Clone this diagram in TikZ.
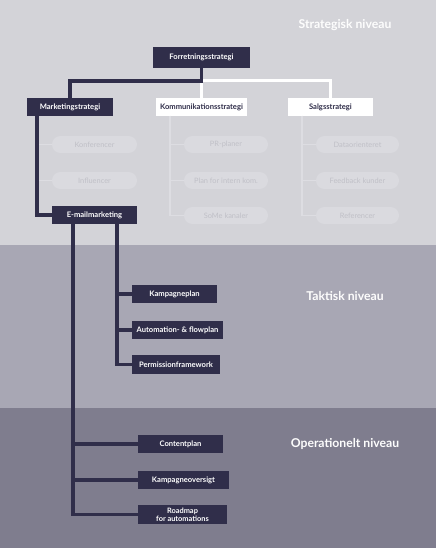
\documentclass[tikz,border=0pt]{standalone}
\usepackage{fontspec}
\setmainfont{Lato}
\definecolor{bandtop}{HTML}{D3D3D8}
\definecolor{bandmid}{HTML}{A8A7B4}
\definecolor{bandlow}{HTML}{7F7D8E}
\definecolor{navy}{HTML}{302E4A}
\definecolor{pillfill}{HTML}{DADADF}
\definecolor{pilltext}{HTML}{C0C0C7}
\definecolor{faint}{HTML}{DDDDE2}
\tikzset{
  darkbox/.style={fill=navy, text=white, font=\fontsize{7.6}{8.4}\selectfont\bfseries,
    minimum height=18pt, inner sep=1pt, align=center},
  lightbox/.style={fill=white, text=navy, font=\fontsize{7.6}{8.4}\selectfont\bfseries,
    minimum height=18pt, inner sep=1pt},
  pill/.style={fill=pillfill, text=pilltext, rounded corners=8.5pt,
    font=\fontsize{7.4}{8}\selectfont, minimum height=17pt, inner sep=1pt},
  darkline/.style={navy, line width=3.6pt},
  whiteline/.style={white, line width=3pt},
  faintline/.style={faint, line width=1.5pt},
  levellabel/.style={text=white!96!bandtop, font=\fontsize{12.2}{14}\selectfont\bfseries}
}
\begin{document}
\begin{tikzpicture}[x=1pt,y=-1pt]
% baggrund
\fill[bandtop] (0,0) rectangle (436,245);
\fill[bandmid] (0,245) rectangle (436,408);
\fill[bandlow] (0,408) rectangle (436,548);
\useasboundingbox (0,0) rectangle (436,548);

\node[levellabel] (strat) at (345,25) {Strategisk niveau};
\node[levellabel] (takt) at (345,296) {Taktisk niveau};
\node[levellabel] (oper) at (345,444) {Operationelt niveau};

% strategisk niveau
\node[darkbox, minimum width=97pt, minimum height=21pt] (forr) at (201.5,57.5) {Forretningsstrategi};
\node[darkbox, minimum width=86pt] (mark) at (70,107) {Marketingstrategi};
\node[lightbox, minimum width=91pt] (komm) at (201.5,107) {Kommunikationsstrategi};
\node[lightbox, minimum width=85pt] (salg) at (330.5,107) {Salgsstrategi};
\node[darkbox, minimum width=85pt] (email) at (94.5,215) {E-mailmarketing};

\node[pill, minimum width=85pt] (konf) at (94.5,144.5) {Konferencer};
\node[pill, minimum width=85pt] (infl) at (94.5,180.5) {Influencer};
\node[pill, minimum width=84pt] (pr) at (226,144.5) {PR-planer};
\node[pill, minimum width=84pt] (intern) at (226,180.5) {Plan for intern kom.};
\node[pill, minimum width=84pt] (some) at (226,215.5) {SoMe kanaler};
\node[pill, minimum width=83pt] (data) at (357.5,144.5) {Dataorienteret};
\node[pill, minimum width=83pt] (feed) at (357.5,180.5) {Feedback kunder};
\node[pill, minimum width=83pt] (ref) at (357.5,215.5) {Referencer};

% taktisk niveau
\node[darkbox, minimum width=85pt] (kamp) at (174.5,294) {Kampagneplan};
\node[darkbox, minimum width=91pt] (auto) at (177.5,330) {Automation- \& flowplan};
\node[darkbox, minimum width=88pt, minimum height=19pt] (perm) at (176,364.5) {Permissionframework};

% operationelt niveau
\node[darkbox, minimum width=85pt] (cont) at (180.5,444) {Contentplan};
\node[darkbox, minimum width=91pt] (over) at (183.5,480) {Kampagneoversigt};
\node[darkbox, minimum width=89pt, minimum height=19pt, font=\fontsize{7.4}{7.8}\selectfont\bfseries] (road) at (182.5,514.5) {Roadmap\\for automations};

% forbindelser
\coordinate (split) at (201.5,81);
\draw[whiteline] (split) -| (salg.north);
\draw[whiteline] (split) -- (komm.north);
\draw[darkline] (forr.south) -- (split) -| (mark.north);

\coordinate (mline) at (37,116);
\draw[faintline] (konf.west) -- (konf.west -| mline);
\draw[faintline] (infl.west) -- (infl.west -| mline);
\draw[darkline] (mline) |- (email.west);

\coordinate (kline) at (170,116);
\foreach \p in {pr,intern,some}
  \draw[faintline] (kline) |- (\p.west);
\coordinate (sline) at (302,116);
\foreach \p in {data,feed,ref}
  \draw[faintline] (sline) |- (\p.west);

\foreach \p in {kamp,auto,perm}
  \draw[darkline] ([xshift=22.5pt]email.south) |- (\p.west);
\foreach \p in {cont,over,road}
  \draw[darkline] ([xshift=-21.5pt]email.south) |- (\p.west);
\end{tikzpicture}
\end{document}
